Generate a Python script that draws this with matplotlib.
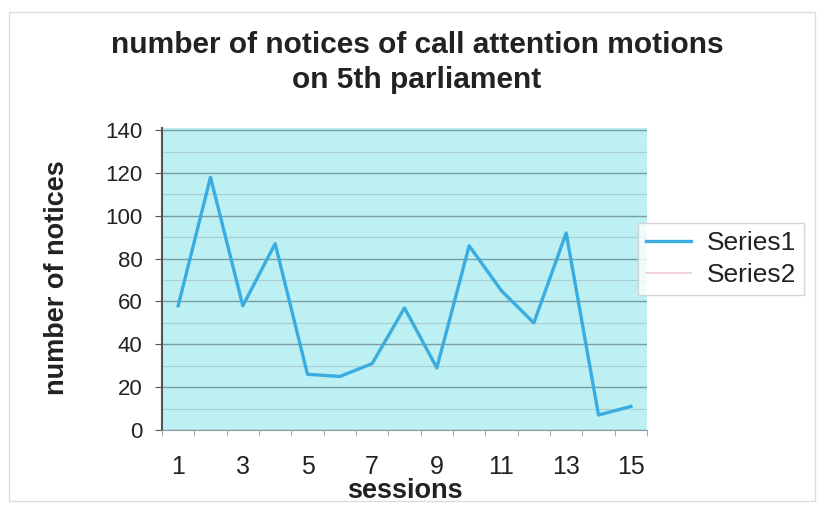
import matplotlib.pyplot as plt
import numpy as np
from matplotlib.patches import Rectangle

sessions = list(range(1, 16))
series1 = [58, 118, 58, 87, 26, 25, 31, 57, 29, 86, 65, 50, 92, 7, 11]
series2 = []
yticks = [0, 20, 40, 60, 80, 100, 120, 140]
xtick_labels = [1, 3, 5, 7, 9, 11, 13, 15]

plt.rcParams['font.family'] = ['Liberation Sans', 'DejaVu Sans']

W, H = 819, 505
fig = plt.figure(figsize=(W / 100, H / 100), dpi=100)
ax = fig.add_axes([162/W, 1-430/H, 485/W, 302/H])
ax.set_facecolor('#bdf0f3')

ax.plot(sessions, series1, color='#3aace0', linewidth=2.4, label='Series1')
ax.plot([], [], color='#f0c8d8', linewidth=1.2, label='Series2')

ax.set_xlim(0.5, 15.5)
ax.set_ylim(0, 141)
ax.set_yticks(yticks)
ax.set_yticks(np.arange(10, 140, 10), minor=True)
ax.grid(axis='y', which='major', color='#7a9ea6', linewidth=1.0)
ax.grid(axis='y', which='minor', color='#a9cdd3', linewidth=0.8)
ax.set_axisbelow(True)

ax.set_xticks(xtick_labels)
ax.set_xticklabels([str(v) for v in xtick_labels])
ax.set_xticks(np.arange(0.5, 16, 1), minor=True)
ax.tick_params(axis='x', which='major', length=0, pad=18, labelsize=18, colors='#222222')
ax.tick_params(axis='x', which='minor', length=4, color='#999999')
ax.tick_params(axis='y', which='major', length=5, color='#555555', labelsize=16,
               labelcolor='#222222', pad=9)
ax.tick_params(axis='y', which='minor', length=0)

for s in ['top', 'right']:
    ax.spines[s].set_visible(False)
ax.spines['left'].set_color('#555555')
ax.spines['left'].set_linewidth(1.5)
ax.spines['bottom'].set_color('#8a9aa0')

fig.text(405/W, 1-491/H, 'sessions', fontsize=19.5, fontweight='bold',
         color='#222222', ha='center', va='center')
fig.text(57/W, 1-278/H, 'number of notices', fontsize=19.5, fontweight='bold',
         color='#222222', ha='center', va='center', rotation=90)
fig.text(417/W, 1-45/H, 'number of notices of call attention motions', fontsize=21.5,
         fontweight='bold', color='#222222', ha='center', va='center')
fig.text(417/W, 1-80/H, 'on 5th parliament', fontsize=21.5,
         fontweight='bold', color='#222222', ha='center', va='center')

leg = ax.legend(loc='center left', bbox_to_anchor=(0.955, 0.565), fontsize=19,
                frameon=True, fancybox=False, edgecolor='#cccccc', handlelength=1.7,
                handletextpad=0.6, borderpad=0.3, labelspacing=0.3)
leg.get_frame().set_facecolor('white')
for t in leg.get_texts():
    t.set_color('#222222')

fig.patches.append(Rectangle((9/W, 4/H), 806/W, 489/H, transform=fig.transFigure,
                             fill=False, edgecolor='#dddddd', linewidth=1))

plt.savefig('out.png', dpi=100)
